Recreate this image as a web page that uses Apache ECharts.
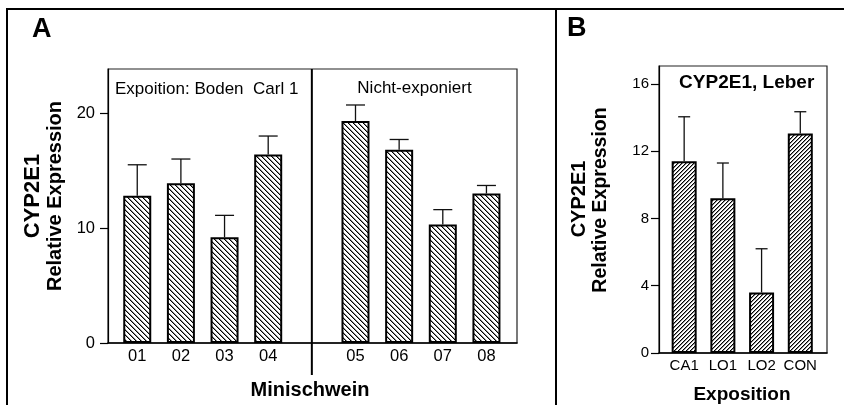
<!DOCTYPE html>
<html>
<head>
<meta charset="utf-8">
<script src="https://cdn.jsdelivr.net/npm/echarts@6/dist/echarts.min.js"></script>
<style>
  html, body { margin: 0; padding: 0; background: #fff; }
  #chart { width: 844px; height: 405px; }
</style>
</head>
<body>
<div id="chart"></div>
<script>
// Panel A: CYP2E1 relative expression per minipig
const pigLabels = ['01', '02', '03', '04', '05', '06', '07', '08'];
const pigMeans  = [12.8, 13.9, 9.2, 16.4, 19.3, 16.8, 10.3, 13.0];
const pigErrors = [2.7, 2.1, 1.9, 1.6, 1.4, 0.9, 1.3, 0.7];
const pigTicks  = [0, 10, 20];

// Panel B: CYP2E1 in liver per exposure group
const groupLabels = ['CA1', 'LO1', 'LO2', 'CON'];
const groupMeans  = [11.4, 9.2, 3.6, 13.05];
const groupErrors = [2.65, 2.1, 2.6, 1.3];
const groupTicks  = [0, 4, 8, 12, 16];

const FONT = '"Liberation Sans", Arial, Helvetica, sans-serif';

// Slot positions on panel A: one empty slot separates the two groups
const GAP_SLOT = 5;
const pigSlots = pigLabels.map((_, i) => (i < 4 ? i + 1 : i + 2));
const slotToPig = {};
pigSlots.forEach((s, i) => { slotToPig[s] = pigLabels[i]; });
const groupSlots = groupLabels.map((_, i) => i + 1);

// Diagonal hatch tiles built pixel by pixel
function hatchTile(size, rising) {
  const c = document.createElement('canvas');
  c.width = size; c.height = size;
  const ctx = c.getContext('2d');
  const img = ctx.createImageData(size, size);
  for (let y = 0; y < size; y++) {
    for (let x = 0; x < size; x++) {
      const k = rising ? (x + y) % size : (((x - y) % size) + size) % size;
      const v = k === 0 ? 0 : (k === 1 ? 140 : 255);
      const o = (y * size + x) * 4;
      img.data[o] = v; img.data[o + 1] = v; img.data[o + 2] = v; img.data[o + 3] = 255;
    }
  }
  ctx.putImageData(img, 0, 0);
  return c;
}
const hatchA = { image: hatchTile(5, false), repeat: 'repeat' };
const hatchB = { image: hatchTile(4, true), repeat: 'repeat' };

function errorBarRenderer(capHalf) {
  return function (params, api) {
    const x = api.value(0);
    const p0 = api.coord([x, api.value(1)]);
    const p1 = api.coord([x, api.value(2)]);
    const st = { stroke: '#111', lineWidth: 1.3 };
    return {
      type: 'group',
      children: [
        { type: 'line', shape: { x1: p0[0], y1: p0[1], x2: p1[0], y2: p1[1] }, style: st },
        { type: 'line', shape: { x1: p1[0] - capHalf, y1: p1[1], x2: p1[0] + capHalf, y2: p1[1] }, style: st }
      ]
    };
  };
}

const yMaxA = 23.83;
const yMaxB = 17.07;

const axisText = { color: '#000', fontFamily: FONT };

const option = {
  animation: false,
  backgroundColor: '#fff',
  grid: [
    { left: 108, top: 69, width: 409, height: 274, show: true, borderColor: '#222', borderWidth: 1.2, backgroundColor: 'transparent' },
    { left: 659, top: 66, width: 168, height: 287, show: true, borderColor: '#222', borderWidth: 1.2, backgroundColor: 'transparent' }
  ],
  xAxis: [
    {
      gridIndex: 0, type: 'value', min: 0.33, max: 9.7,
      axisLine: { show: true, onZero: false, lineStyle: { color: '#000', width: 1.5 } },
      axisTick: { show: false },
      splitLine: { show: false },
      axisLabel: Object.assign({
        customValues: pigSlots, fontSize: 16.5, margin: 5,
        formatter: v => slotToPig[v] || ''
      }, axisText)
    },
    {
      gridIndex: 1, type: 'value', min: 0.35, max: 4.69,
      axisLine: { show: true, onZero: false, lineStyle: { color: '#000', width: 1.5 } },
      axisTick: { show: false },
      splitLine: { show: false },
      axisLabel: Object.assign({
        customValues: groupSlots, fontSize: 15, margin: 5,
        formatter: v => groupLabels[v - 1] || ''
      }, axisText)
    }
  ],
  yAxis: [
    {
      gridIndex: 0, type: 'value', min: 0, max: yMaxA,
      axisLine: { show: true, lineStyle: { color: '#000', width: 1.2 } },
      axisTick: { show: true, length: 8, customValues: pigTicks, lineStyle: { color: '#000', width: 1.2 } },
      splitLine: { show: false },
      axisLabel: Object.assign({ customValues: pigTicks, fontSize: 16.5, margin: 13 }, axisText)
    },
    {
      gridIndex: 1, type: 'value', min: 0, max: yMaxB,
      axisLine: { show: true, lineStyle: { color: '#000', width: 1.2 } },
      axisTick: { show: true, length: 8, customValues: groupTicks, lineStyle: { color: '#000', width: 1.2 } },
      splitLine: { show: false },
      axisLabel: Object.assign({ customValues: groupTicks, fontSize: 15, margin: 10 }, axisText)
    }
  ],
  series: [
    {
      type: 'bar', xAxisIndex: 0, yAxisIndex: 0, barWidth: 28,
      data: pigMeans.map((v, i) => [pigSlots[i], v]),
      itemStyle: { color: hatchA, borderColor: '#000', borderWidth: 2 },
      z: 3
    },
    {
      type: 'custom', xAxisIndex: 0, yAxisIndex: 0, z: 4,
      renderItem: errorBarRenderer(9.5),
      encode: { x: 0, y: [1, 2] },
      data: pigMeans.map((v, i) => [pigSlots[i], v, v + pigErrors[i]])
    },
    {
      // group divider through the empty slot, running below the axis
      type: 'custom', xAxisIndex: 0, yAxisIndex: 0, z: 5, clip: false,
      renderItem: function (params, api) {
        const x = api.value(0);
        const top = api.coord([x, yMaxA]);
        const bot = api.coord([x, 0]);
        return { type: 'line', shape: { x1: top[0], y1: top[1], x2: bot[0], y2: bot[1] + 32 }, style: { stroke: '#000', lineWidth: 2 } };
      },
      encode: { x: 0 },
      data: [[GAP_SLOT]]
    },
    {
      type: 'bar', xAxisIndex: 1, yAxisIndex: 1, barWidth: 25,
      data: groupMeans.map((v, i) => [groupSlots[i], v]),
      itemStyle: { color: hatchB, borderColor: '#000', borderWidth: 2 },
      z: 3
    },
    {
      type: 'custom', xAxisIndex: 1, yAxisIndex: 1, z: 4,
      renderItem: errorBarRenderer(6),
      encode: { x: 0, y: [1, 2] },
      data: groupMeans.map((v, i) => [groupSlots[i], v, v + groupErrors[i]])
    }
  ],
  graphic: [
    // figure frame
    { type: 'line', shape: { x1: 6, y1: 9, x2: 844, y2: 9 }, style: { stroke: '#000', lineWidth: 2 } },
    { type: 'line', shape: { x1: 7, y1: 8, x2: 7, y2: 405 }, style: { stroke: '#000', lineWidth: 2 } },
    { type: 'line', shape: { x1: 556, y1: 8, x2: 556, y2: 405 }, style: { stroke: '#000', lineWidth: 2 } },
    // panel letters
    { type: 'text', style: { text: 'A', x: 32, y: 30, font: 'bold 27px ' + FONT, fill: '#000', textAlign: 'left', textVerticalAlign: 'middle' } },
    { type: 'text', style: { text: 'B', x: 567, y: 29, font: 'bold 27px ' + FONT, fill: '#000', textAlign: 'left', textVerticalAlign: 'middle' } },
    // panel A titles
    { type: 'text', x: 33, y: 196, rotation: Math.PI / 2, style: { text: 'CYP2E1', x: 0, y: 0, font: 'bold 22px ' + FONT, fill: '#000', textAlign: 'center', textVerticalAlign: 'middle' } },
    { type: 'text', x: 55, y: 196, rotation: Math.PI / 2, style: { text: 'Relative Expression', x: 0, y: 0, font: 'bold 20px ' + FONT, fill: '#000', textAlign: 'center', textVerticalAlign: 'middle' } },
    { type: 'text', style: { text: 'Minischwein', x: 310, y: 390, font: 'bold 20px ' + FONT, fill: '#000', textAlign: 'center', textVerticalAlign: 'middle' } },
    { type: 'text', style: { text: 'Expoition: Boden  Carl 1', x: 115, y: 89, font: '17px ' + FONT, fill: '#000', textAlign: 'left', textVerticalAlign: 'middle' } },
    { type: 'text', style: { text: 'Nicht-exponiert', x: 414.5, y: 88, font: '17px ' + FONT, fill: '#000', textAlign: 'center', textVerticalAlign: 'middle' } },
    // panel B titles
    { type: 'text', x: 579, y: 199, rotation: Math.PI / 2, style: { text: 'CYP2E1', x: 0, y: 0, font: 'bold 20px ' + FONT, fill: '#000', textAlign: 'center', textVerticalAlign: 'middle' } },
    { type: 'text', x: 601, y: 200, rotation: Math.PI / 2, style: { text: 'Relative Expression', x: 0, y: 0, font: 'bold 19.5px ' + FONT, fill: '#000', textAlign: 'center', textVerticalAlign: 'middle' } },
    { type: 'text', style: { text: 'Exposition', x: 742, y: 395, font: 'bold 19px ' + FONT, fill: '#000', textAlign: 'center', textVerticalAlign: 'middle' } },
    { type: 'text', style: { text: 'CYP2E1, Leber', x: 746.7, y: 83, font: 'bold 19px ' + FONT, fill: '#000', textAlign: 'center', textVerticalAlign: 'middle' } }
  ]
};

const chart = echarts.init(document.getElementById('chart'), null, { renderer: 'canvas' });
chart.setOption(option);
</script>
</body>
</html>
